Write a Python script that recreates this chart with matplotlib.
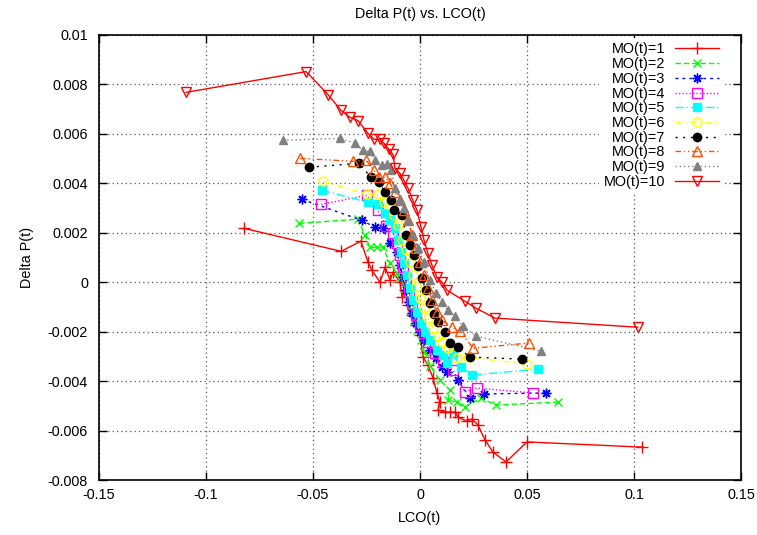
import matplotlib
matplotlib.use("Agg")
import matplotlib.pyplot as plt
from matplotlib.ticker import FormatStrFormatter

plt.rcParams['font.family'] = ['Liberation Sans', 'DejaVu Sans']

# LCO(t) / Delta P(t) values for each MO(t) series
x_mo1 = [-0.0822, -0.0369, -0.0276, -0.0243, -0.0224, -0.0187, -0.0163, -0.0140, -0.0126, -0.0093,
         -0.0084, -0.0070, -0.0056, -0.0037, -0.0019, 0.0000, 0.0014, 0.0037, 0.0061, 0.0079,
         0.0093, 0.0084, 0.0117, 0.0140, 0.0163, 0.0177, 0.0219, 0.0243, 0.0271, 0.0304,
         0.0341, 0.0402, 0.0500, 0.1037]
y_mo1 = [0.00218, 0.00125, 0.00166, 0.00081, 0.00048, 0.00000, 0.00061, 0.00008, 0.00040, 0.00000,
         -0.00061, -0.00032, -0.00093, -0.00133, -0.00174, -0.00214, -0.00303, -0.00335, -0.00388, -0.00448,
         -0.00485, -0.00517, -0.00525, -0.00525, -0.00525, -0.00545, -0.00562, -0.00553, -0.00578, -0.00638,
         -0.00687, -0.00727, -0.00646, -0.00667]

x_mo2 = [-0.0565, -0.0290, -0.0257, -0.0234, -0.0201, -0.0173, -0.0140, -0.0107, -0.0093, -0.0070,
         -0.0056, -0.0042, -0.0028, -0.0014, 0.0005, 0.0023, 0.0047, 0.0093, 0.0140, 0.0131,
         0.0173, 0.0210, 0.0285, 0.0355, 0.0644]
y_mo2 = [0.00238, 0.00255, 0.00190, 0.00141, 0.00141, 0.00141, 0.00077, 0.00036, 0.00016, -0.00024,
         -0.00065, -0.00113, -0.00154, -0.00194, -0.00234, -0.00283, -0.00339, -0.00396, -0.00436, -0.00477,
         -0.00485, -0.00505, -0.00469, -0.00497, -0.00485]

x_mo3 = [-0.0551, -0.0271, -0.0210, -0.0173, -0.0140, -0.0107, -0.0093, -0.0079, -0.0065, -0.0051,
         -0.0037, -0.0019, 0.0000, 0.0019, 0.0047, 0.0075, 0.0103, 0.0126, 0.0177, 0.0234,
         0.0299, 0.0588]
y_mo3 = [0.00335, 0.00250, 0.00222, 0.00218, 0.00158, 0.00121, 0.00069, 0.00020, -0.00032, -0.00081,
         -0.00125, -0.00166, -0.00202, -0.00234, -0.00275, -0.00307, -0.00343, -0.00364, -0.00396, -0.00469,
         -0.00452, -0.00448]

x_mo4 = [-0.0462, -0.0248, -0.0196, -0.0159, -0.0126, -0.0107, -0.0093, -0.0079, -0.0065, -0.0051,
         -0.0037, -0.0019, 0.0000, 0.0019, 0.0037, 0.0070, 0.0107, 0.0154, 0.0210, 0.0266,
         0.0528]
y_mo4 = [0.00315, 0.00351, 0.00291, 0.00226, 0.00198, 0.00158, 0.00109, 0.00061, 0.00008, -0.00040,
         -0.00089, -0.00133, -0.00174, -0.00206, -0.00242, -0.00287, -0.00323, -0.00356, -0.00444, -0.00428,
         -0.00448]

x_mo5 = [-0.0458, -0.0243, -0.0196, -0.0163, -0.0140, -0.0117, -0.0103, -0.0089, -0.0075, -0.0061,
         -0.0047, -0.0033, -0.0014, 0.0005, 0.0023, 0.0047, 0.0079, 0.0107, 0.0126, 0.0154,
         0.0191, 0.0243, 0.0551]
y_mo5 = [0.00372, 0.00323, 0.00315, 0.00279, 0.00250, 0.00218, 0.00170, 0.00121, 0.00077, 0.00028,
         -0.00024, -0.00073, -0.00121, -0.00166, -0.00202, -0.00234, -0.00275, -0.00295, -0.00327, -0.00291,
         -0.00343, -0.00376, -0.00351]

x_mo6 = [-0.0453, -0.0248, -0.0196, -0.0168, -0.0140, -0.0121, -0.0103, -0.0084, -0.0065, -0.0047,
         -0.0033, -0.0019, 0.0000, 0.0019, 0.0037, 0.0061, 0.0084, 0.0103, 0.0131, 0.0173,
         0.0224, 0.0500]
y_mo6 = [0.00408, 0.00356, 0.00356, 0.00323, 0.00311, 0.00271, 0.00230, 0.00170, 0.00129, 0.00081,
         0.00028, -0.00020, -0.00065, -0.00105, -0.00145, -0.00186, -0.00218, -0.00242, -0.00267, -0.00307,
         -0.00303, -0.00331]

x_mo7 = [-0.0518, -0.0285, -0.0229, -0.0191, -0.0163, -0.0135, -0.0121, -0.0084, -0.0065, -0.0047,
         -0.0028, -0.0009, 0.0009, 0.0028, 0.0047, 0.0065, 0.0084, 0.0117, 0.0140, 0.0177,
         0.0234, 0.0476]
y_mo7 = [0.00465, 0.00481, 0.00424, 0.00404, 0.00364, 0.00331, 0.00291, 0.00271, 0.00190, 0.00149,
         0.00109, 0.00065, 0.00016, -0.00032, -0.00085, -0.00129, -0.00162, -0.00202, -0.00246, -0.00263,
         -0.00303, -0.00311]

x_mo8 = [-0.0560, -0.0313, -0.0252, -0.0215, -0.0191, -0.0163, -0.0140, -0.0117, -0.0093, -0.0075,
         -0.0056, -0.0037, -0.0019, 0.0000, 0.0019, 0.0037, 0.0056, 0.0079, 0.0103, 0.0149,
         0.0187, 0.0248, 0.0509]
y_mo8 = [0.00501, 0.00489, 0.00493, 0.00452, 0.00424, 0.00424, 0.00400, 0.00364, 0.00331, 0.00291,
         0.00250, 0.00190, 0.00137, 0.00081, 0.00028, -0.00024, -0.00073, -0.00121, -0.00154, -0.00182,
         -0.00198, -0.00267, -0.00246]

x_mo9 = [-0.0640, -0.0374, -0.0304, -0.0266, -0.0234, -0.0210, -0.0177, -0.0154, -0.0135, -0.0117,
         -0.0093, -0.0075, -0.0056, -0.0033, -0.0009, 0.0019, 0.0047, 0.0075, 0.0103, 0.0131,
         0.0163, 0.0201, 0.0262, 0.0565]
y_mo9 = [0.00574, 0.00582, 0.00562, 0.00533, 0.00529, 0.00493, 0.00473, 0.00477, 0.00452, 0.00380,
         0.00331, 0.00299, 0.00250, 0.00190, 0.00137, 0.00081, 0.00008, -0.00044, -0.00081, -0.00113,
         -0.00137, -0.00178, -0.00218, -0.00279]

x_mo10 = [-0.1093, -0.0532, -0.0430, -0.0369, -0.0327, -0.0290, -0.0243, -0.0215, -0.0187, -0.0168,
          -0.0145, -0.0126, -0.0117, -0.0093, -0.0075, -0.0056, -0.0033, -0.0014, 0.0005, 0.0019,
          0.0037, 0.0056, 0.0079, 0.0103, 0.0126, 0.0210, 0.0262, 0.0350, 0.1018]
y_mo10 = [0.00768, 0.00852, 0.00759, 0.00695, 0.00667, 0.00654, 0.00602, 0.00578, 0.00578, 0.00562,
          0.00537, 0.00517, 0.00461, 0.00440, 0.00412, 0.00380, 0.00331, 0.00291, 0.00222, 0.00170,
          0.00117, 0.00069, 0.00020, 0.00000, -0.00032, -0.00077, -0.00105, -0.00145, -0.00182]

labels = ["MO(t)=%d" % i for i in range(1, 11)]
xticks = [-0.15, -0.1, -0.05, 0, 0.05, 0.1, 0.15]
yticks = [-0.008, -0.006, -0.004, -0.002, 0, 0.002, 0.004, 0.006, 0.008, 0.01]

xs = [x_mo1, x_mo2, x_mo3, x_mo4, x_mo5, x_mo6, x_mo7, x_mo8, x_mo9, x_mo10]
ys = [y_mo1, y_mo2, y_mo3, y_mo4, y_mo5, y_mo6, y_mo7, y_mo8, y_mo9, y_mo10]

# gnuplot postscript-like styles: colour, marker, filled, dash
colors = ['#ff0000', '#00ff00', '#0000ff', '#ff00ff', '#00ffff',
          '#ffff00', '#000000', '#ff4d00', '#808080', '#ff0000']
markers = ['+', 'x', (8, 2, 0), 's', 's', 'o', 'o', '^', '^', 'v']
filled = [True, True, True, False, True, False, True, False, True, False]
dashes = ['-', (0, (4, 2)), (0, (2, 3)), (0, (1, 1.5)), (0, (6, 2, 1, 2)),
          (0, (4, 3, 1, 3)), (0, (1.5, 4)), (0, (4, 2, 1, 2, 1, 2)), (0, (1, 2)), '-']
msizes = [8, 6, 7, 6.5, 6, 6.5, 6, 6.5, 6, 7]

fig = plt.figure(figsize=(7.57, 5.35), dpi=100)
ax = fig.add_axes([0.1308, 0.1028, 0.848, 0.8318])

for i in range(10):
    mfc = colors[i] if filled[i] else 'none'
    ax.plot(xs[i], ys[i], color=colors[i], linestyle=dashes[i], linewidth=1,
            marker=markers[i], markersize=msizes[i], markerfacecolor=mfc,
            markeredgecolor=colors[i], markeredgewidth=1, label=labels[i])

ax.set_xlim(-0.15, 0.15)
ax.set_ylim(-0.008, 0.01)
ax.set_xticks(xticks)
ax.set_yticks(yticks)
ax.xaxis.set_major_formatter(FormatStrFormatter('%g'))
ax.yaxis.set_major_formatter(FormatStrFormatter('%g'))
ax.tick_params(direction='in', top=True, right=True, length=6, width=1,
               labelsize=10.4, color='black')
ax.tick_params(axis='y', pad=8)
ax.tick_params(axis='x', pad=6)
ax.grid(True, color='#555555', linestyle=(0, (1, 2.5)), linewidth=0.9)
ax.set_axisbelow(True)
for sp in ax.spines.values():
    sp.set_linewidth(1.2)

ax.set_title("Delta P(t) vs. LCO(t)", fontsize=10.4, pad=12)
ax.set_xlabel("LCO(t)", fontsize=10.4, labelpad=6)
ax.set_ylabel("Delta P(t)", fontsize=10.4, labelpad=10)

leg = ax.legend(loc='upper right', bbox_to_anchor=(0.972, 0.993), markerfirst=False,
                fontsize=10.4, handlelength=3.0, handletextpad=0.7, labelspacing=0.05,
                borderpad=0.3, borderaxespad=0, frameon=True, fancybox=False)
leg.get_frame().set_edgecolor('none')
leg.get_frame().set_facecolor('white')
leg.get_frame().set_alpha(1)

fig.savefig("out.png", dpi=100)
